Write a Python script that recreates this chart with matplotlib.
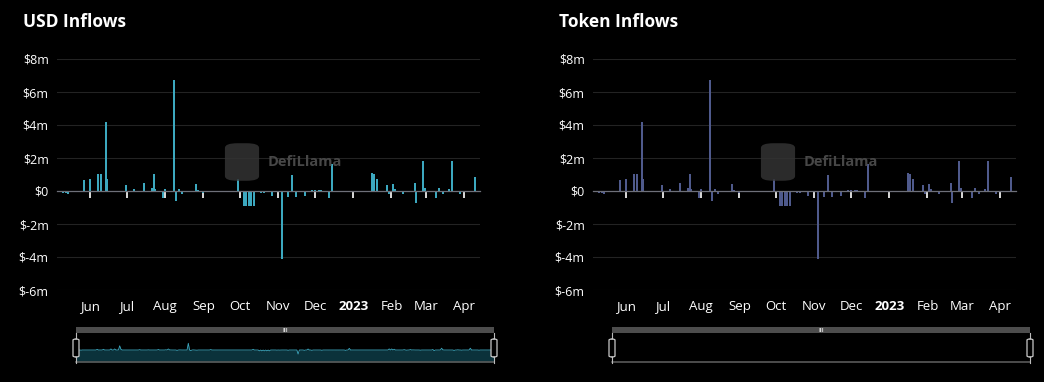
"""
plot.py
DefiLlama style inflow panels: USD Inflows / Token Inflows (daily bars, $m)
"""

import numpy as np
import pandas as pd
import matplotlib
matplotlib.use("Agg")
import matplotlib.pyplot as plt
from matplotlib.patches import FancyBboxPatch, Rectangle

# ── Data ($ millions per day) ─────────────────────────────────
flow_dates = [
    "2022-05-10", "2022-05-12", "2022-05-14", "2022-05-27", "2022-06-01",
    "2022-06-07", "2022-06-10", "2022-06-14", "2022-06-15", "2022-06-30",
    "2022-07-07", "2022-07-15", "2022-07-21", "2022-07-23", "2022-07-24",
    "2022-07-30", "2022-08-01", "2022-08-08", "2022-08-10", "2022-08-12",
    "2022-08-15", "2022-08-26", "2022-08-28", "2022-09-01", "2022-09-25",
    "2022-09-29", "2022-10-04", "2022-10-06", "2022-10-08", "2022-10-10",
    "2022-10-12", "2022-10-18", "2022-10-20", "2022-10-27", "2022-11-04",
    "2022-11-09", "2022-11-12", "2022-11-15", "2022-11-23", "2022-11-28",
    "2022-12-01", "2022-12-04", "2022-12-06", "2022-12-12", "2022-12-15",
    "2023-01-16", "2023-01-18", "2023-01-20", "2023-01-28", "2023-01-30",
    "2023-02-02", "2023-02-04", "2023-02-10", "2023-02-20", "2023-02-21",
    "2023-02-27", "2023-02-28", "2023-03-09", "2023-03-12", "2023-03-15",
    "2023-03-20", "2023-03-22", "2023-03-29", "2023-04-10",
]
usd_inflows = [
    -0.10, -0.15, -0.20, 0.65, 0.70,
    1.05, 1.05, 4.20, 0.75, 0.35,
    0.15, 0.50, 0.20, 1.05, 0.10,
    -0.40, 0.10, 6.70, -0.60, 0.10,
    -0.20, 0.45, 0.05, -0.10, -0.05,
    0.70, -0.90, -0.90, -0.90, -0.90,
    -0.90, -0.15, -0.10, -0.30, -4.10,
    -0.35, 1.00, -0.35, -0.30, 0.05,
    0.05, 0.08, 0.05, -0.40, 1.65,
    1.10, 1.05, 0.75, 0.35, -0.20,
    0.45, 0.10, -0.20, 0.50, -0.70,
    1.80, 0.20, -0.45, 0.20, -0.20,
    0.10, 1.80, -0.20, 0.85,
]
# token panel shows the same daily bars
token_inflows = [
    -0.10, -0.15, -0.20, 0.65, 0.70,
    1.05, 1.05, 4.20, 0.75, 0.35,
    0.15, 0.50, 0.20, 1.05, 0.10,
    -0.40, 0.10, 6.70, -0.60, 0.10,
    -0.20, 0.45, 0.05, -0.10, -0.05,
    0.70, -0.90, -0.90, -0.90, -0.90,
    -0.90, -0.15, -0.10, -0.30, -4.10,
    -0.35, 1.00, -0.35, -0.30, 0.05,
    0.05, 0.08, 0.05, -0.40, 1.65,
    1.10, 1.05, 0.75, 0.35, -0.20,
    0.45, 0.10, -0.20, 0.50, -0.70,
    1.80, 0.20, -0.45, 0.20, -0.20,
    0.10, 1.80, -0.20, 0.85,
]

month_ticks  = ["2022-06-01", "2022-07-01", "2022-08-01", "2022-09-01",
                "2022-10-01", "2022-11-01", "2022-12-01", "2023-01-01",
                "2023-02-01", "2023-03-01", "2023-04-01"]
month_labels = ["Jun", "Jul", "Aug", "Sep", "Oct", "Nov", "Dec", "2023",
                "Feb", "Mar", "Apr"]
y_ticks  = [-6, -4, -2, 0, 2, 4, 6, 8]
y_labels = ["$-6m", "$-4m", "$-2m", "$0", "$2m", "$4m", "$6m", "$8m"]

# ── Style ─────────────────────────────────────────────────────
W, H      = 1044, 382
BG        = "#000000"
GRID      = "#232323"
ZERO_LINE = "#6e7079"
FONT      = ["Open Sans", "DejaVu Sans"]
X_START, X_END = pd.Timestamp("2022-05-05"), pd.Timestamp("2023-04-14")

plt.rcParams["font.family"] = FONT

fig = plt.figure(figsize=(W / 100, H / 100), dpi=100)
fig.patch.set_facecolor(BG)


def fx(px):
    return px / W


def fy(px):
    return 1 - px / H


def draw_panel(x0, title, values, color, show_area):
    dates = pd.to_datetime(flow_dates)

    # title
    fig.text(fx(x0 - 34), fy(22), title, color="white", fontsize=12.5,
             fontweight="bold", va="center", ha="left")

    ax = fig.add_axes([fx(x0), fy(290), fx(423), 231 / H])
    ax.set_facecolor(BG)
    ax.bar(dates, values, width=1.6, color=color, linewidth=0,
           antialiased=False, zorder=3)

    ax.set_ylim(-6, 8)
    ax.set_xlim(X_START, X_END)
    ax.set_yticks(y_ticks)
    ax.set_yticklabels(y_labels)
    ax.tick_params(axis="y", length=0, pad=6, labelsize=9, colors="white")
    ax.grid(axis="y", color=GRID, linewidth=0.8, zorder=0)
    for side in ("top", "right", "left"):
        ax.spines[side].set_visible(False)

    # x axis line sits on zero with white ticks, labels at the bottom
    ax.spines["bottom"].set_position(("data", 0))
    ax.spines["bottom"].set_color(ZERO_LINE)
    ax.spines["bottom"].set_linewidth(0.9)
    ax.spines["bottom"].set_zorder(4)
    ticks = pd.to_datetime(month_ticks)
    ax.set_xticks(ticks)
    ax.tick_params(axis="x", direction="out", length=5, width=1.2,
                   colors="white", labelbottom=False)

    sec = ax.secondary_xaxis("bottom")
    sec.set_xticks(ticks)
    sec.set_xticklabels(month_labels)
    sec.tick_params(length=0, pad=7, labelsize=9.5, colors="white")
    sec.spines["bottom"].set_visible(False)
    for lbl in sec.get_xticklabels():
        if lbl.get_text() == "2023":
            lbl.set_fontweight("bold")

    # watermark
    fig.patches.append(FancyBboxPatch(
        (fx(x0 + 170), fy(180)), fx(30), 36 / H,
        boxstyle="round,pad=0.002,rounding_size=0.012",
        transform=fig.transFigure, facecolor="#333333", edgecolor="none",
        alpha=0.85, zorder=5))
    fig.text(fx(x0 + 211), fy(162), "DefiLlama", color="#474747",
             fontsize=10.5, fontweight="bold", va="center", ha="left",
             zorder=6)

    # data zoom slider
    sx0, sx1 = x0 + 19, x0 + 437
    fig.patches.append(Rectangle((fx(sx0), fy(333)), fx(sx1 - sx0), 6 / H,
                                 transform=fig.transFigure,
                                 facecolor="#4d4d4d", edgecolor="none"))
    fig.text(fx((sx0 + sx1) / 2), fy(330), "III", color="#dddddd",
             fontsize=4, fontweight="bold", ha="center", va="center")

    sl = fig.add_axes([fx(sx0), fy(362), fx(sx1 - sx0), 29 / H])
    sl.set_facecolor(BG)
    if show_area:
        daily = (pd.Series(values, index=dates)
                 .reindex(pd.date_range(dates[0], dates[-1]), fill_value=0))
        sl.fill_between(daily.index, daily.values, -12,
                        color="#0b323b", linewidth=0)
        sl.plot(daily.index, daily.values, color=color, linewidth=0.6)
        sl.set_xlim(daily.index[0], daily.index[-1])
    sl.set_ylim(-12, 17)
    sl.set_xticks([])
    sl.set_yticks([])
    for side in ("top", "left", "right"):
        sl.spines[side].set_visible(False)
    sl.spines["bottom"].set_color("#5a5a5a")
    sl.spines["bottom"].set_linewidth(1.2)

    # handles
    for hx in (sx0, sx1):
        fig.lines.append(plt.Line2D([fx(hx), fx(hx)], [fy(363), fy(333)],
                                    transform=fig.transFigure,
                                    color="#bbbbbb", linewidth=0.8))
        fig.patches.append(FancyBboxPatch(
            (fx(hx - 3), fy(357)), fx(6), 18 / H,
            boxstyle="round,pad=0,rounding_size=0.003",
            transform=fig.transFigure, facecolor=BG,
            edgecolor="#c8c8c8", linewidth=0.9, zorder=5))


draw_panel(57, "USD Inflows", usd_inflows, "#3ca8bf", show_area=True)
draw_panel(593, "Token Inflows", token_inflows, "#4f5a8c", show_area=False)

fig.savefig("out.png", dpi=100, facecolor=BG)
